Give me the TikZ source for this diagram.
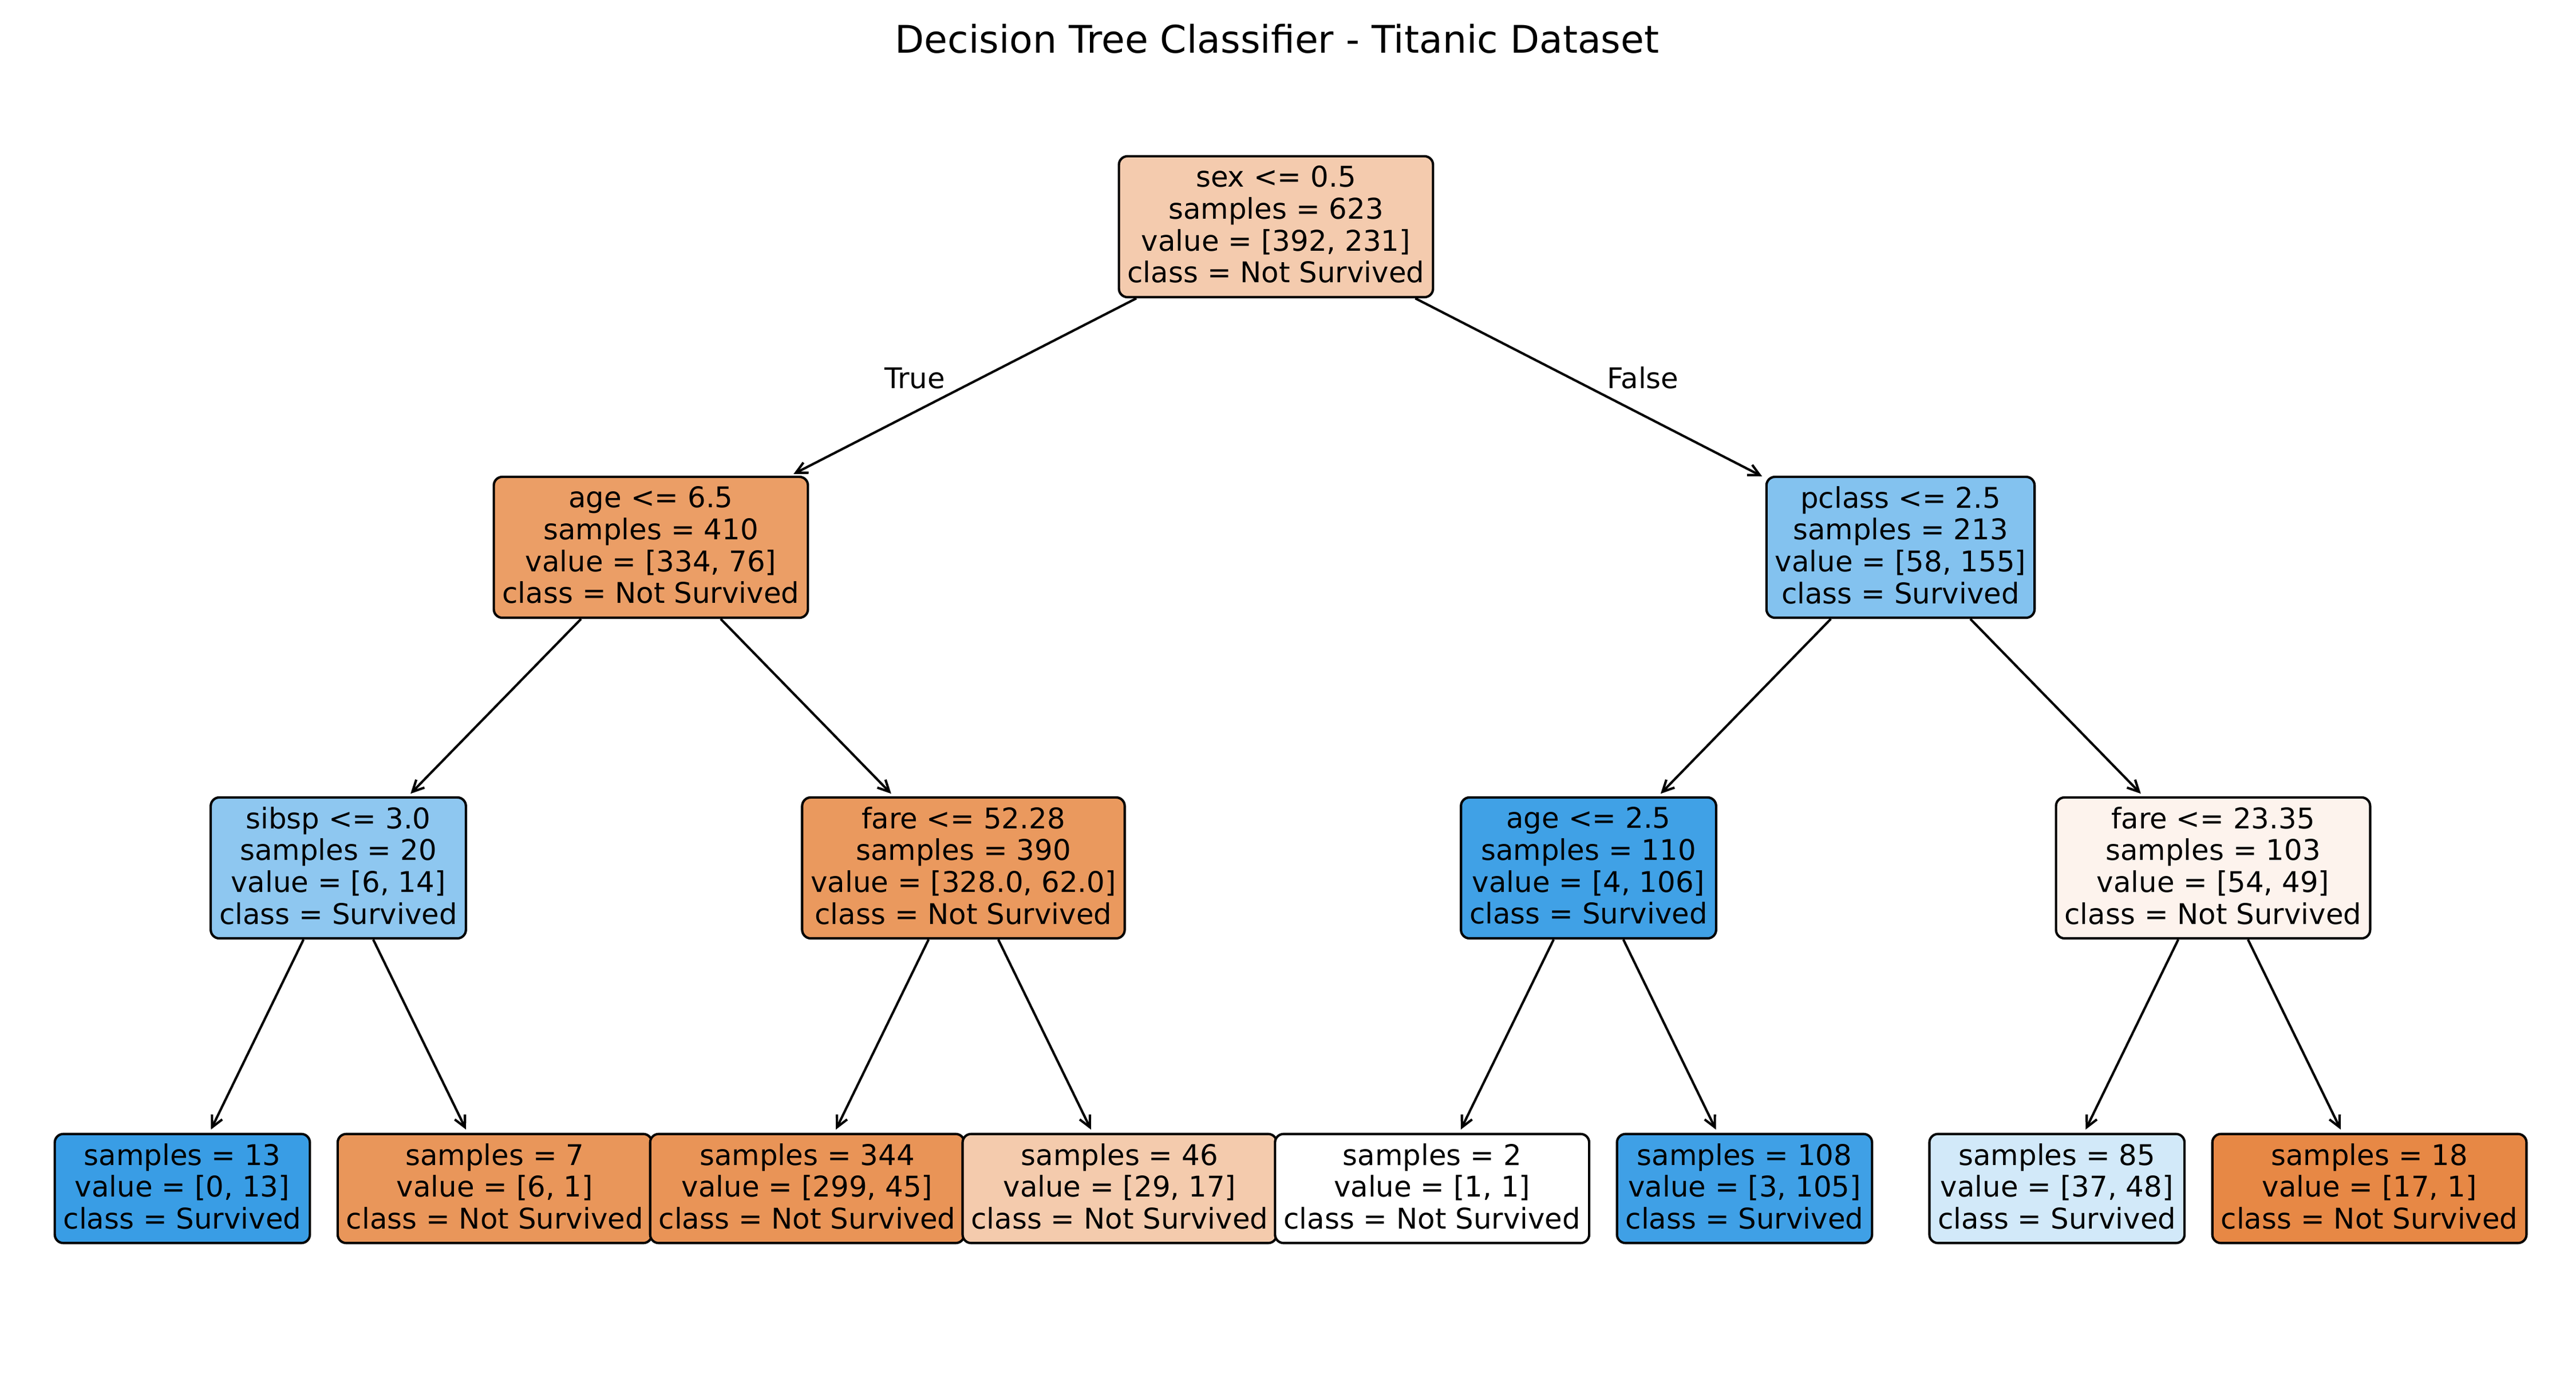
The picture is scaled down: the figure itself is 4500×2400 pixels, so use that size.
\documentclass[tikz,border=0pt]{standalone}
\usepackage{fontspec}
\setmainfont{DejaVu Sans}
\usetikzlibrary{arrows.meta}
\definecolor{cRoot}{RGB}{244,203,174}
\definecolor{cAge}{RGB}{235,158,102}
\definecolor{cPclass}{RGB}{131,194,239}
\definecolor{cSibsp}{RGB}{142,199,240}
\definecolor{cFareA}{RGB}{234,153,94}
\definecolor{cAgeB}{RGB}{64,161,230}
\definecolor{cFareB}{RGB}{253,243,237}
\definecolor{cL13}{RGB}{57,157,229}
\definecolor{cL7}{RGB}{233,150,90}
\definecolor{cL344}{RGB}{233,148,87}
\definecolor{cL46}{RGB}{244,203,173}
\definecolor{cL2}{RGB}{255,255,255}
\definecolor{cL108}{RGB}{63,160,230}
\definecolor{cL85}{RGB}{210,233,249}
\definecolor{cL18}{RGB}{231,136,69}
\tikzset{
  tnode/.style = {
    draw, rounded corners=3.6pt, align=center, inner xsep=3.6pt, inner ysep=3.6pt,
    line width=1pt, text depth=2pt, font=\fontsize{12}{13.4}\selectfont
  },
  split/.style = {tnode, minimum height=59.3pt},
  leaf/.style = {tnode, minimum height=45.9pt},
  arrow/.style = {-{Straight Barb[length=4.8pt, width=4.8pt]}, line width=1pt, shorten >=1.5pt},
  edgelabel/.style = {anchor=base, font=\fontsize{12}{14}\selectfont},
}
\begin{document}
\begin{tikzpicture}[x=0.0846667mm, y=-0.0846667mm]
    \useasboundingbox (0,0) rectangle (4500,2400);

    % Title
    \node[anchor=base, font=\fontsize{16}{19}\selectfont] (title) at (2231,92.7) {Decision Tree Classifier - Titanic Dataset};

    % Depth 0
    \node[split, fill=cRoot] (root) at (2229,396) {sex <= 0.5\\samples = 623\\value = [392, 231]\\class = Not Survived};

    % Depth 1
    \node[split, fill=cAge] (age) at (1137,956) {age <= 6.5\\samples = 410\\value = [334, 76]\\class = Not Survived};
    \node[split, fill=cPclass] (pclass) at (3320,956) {pclass <= 2.5\\samples = 213\\value = [58, 155]\\class = Survived};

    % Depth 2
    \node[split, fill=cSibsp] (sibsp) at (591,1516) {sibsp <= 3.0\\samples = 20\\value = [6, 14]\\class = Survived};
    \node[split, fill=cFareA] (fareA) at (1683,1516) {fare <= 52.28\\samples = 390\\value = [328.0, 62.0]\\class = Not Survived};
    \node[split, fill=cAgeB] (ageB) at (2775,1516) {age <= 2.5\\samples = 110\\value = [4, 106]\\class = Survived};
    \node[split, fill=cFareB] (fareB) at (3866,1516) {fare <= 23.35\\samples = 103\\value = [54, 49]\\class = Not Survived};

    % Depth 3 (leaves)
    \node[leaf, fill=cL13] (l13) at (318.5,2076) {samples = 13\\value = [0, 13]\\class = Survived};
    \node[leaf, fill=cL7] (l7) at (864.3,2076) {samples = 7\\value = [6, 1]\\class = Not Survived};
    \node[leaf, fill=cL344] (l344) at (1410.1,2076) {samples = 344\\value = [299, 45]\\class = Not Survived};
    \node[leaf, fill=cL46] (l46) at (1955.9,2076) {samples = 46\\value = [29, 17]\\class = Not Survived};
    \node[leaf, fill=cL2] (l2) at (2501.7,2076) {samples = 2\\value = [1, 1]\\class = Not Survived};
    \node[leaf, fill=cL108] (l108) at (3047.5,2076) {samples = 108\\value = [3, 105]\\class = Survived};
    \node[leaf, fill=cL85] (l85) at (3593.3,2076) {samples = 85\\value = [37, 48]\\class = Survived};
    \node[leaf, fill=cL18] (l18) at (4139.1,2076) {samples = 18\\value = [17, 1]\\class = Not Survived};

    % Arrows
    \draw[arrow] (root) -- (age);
    \draw[arrow] (root) -- (pclass);
    \draw[arrow] (age) -- (sibsp);
    \draw[arrow] (age) -- (fareA);
    \draw[arrow] (pclass) -- (ageB);
    \draw[arrow] (pclass) -- (fareB);
    \draw[arrow] (sibsp) -- (l13);
    \draw[arrow] (sibsp) -- (l7);
    \draw[arrow] (fareA) -- (l344);
    \draw[arrow] (fareA) -- (l46);
    \draw[arrow] (ageB) -- (l2);
    \draw[arrow] (ageB) -- (l108);
    \draw[arrow] (fareB) -- (l85);
    \draw[arrow] (fareB) -- (l18);

    % Branch labels
    \node[edgelabel] (lblTrue) at (1598,679) {True};
    \node[edgelabel] (lblFalse) at (2870,679) {False};
  \end{tikzpicture}
\end{document}
